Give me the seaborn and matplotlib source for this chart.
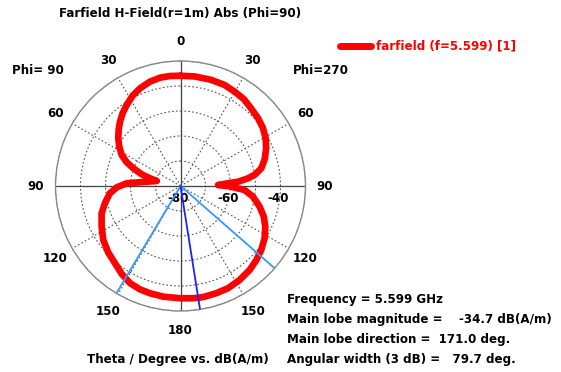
import numpy as np
import pandas as pd
import matplotlib
matplotlib.use("Agg")
import matplotlib.pyplot as plt
import seaborn as sns

sns.set_style("white")
plt.rcParams['font.family'] = ['DejaVu Sans']
plt.rcParams['font.weight'] = 'bold'
plt.rcParams['text.color'] = 'black'
plt.rcParams['xtick.color'] = 'black'
plt.rcParams['ytick.color'] = 'black'

# Angle measured clockwise from top (deg): right half = Phi=270 side, left half = Phi=90 side
angle_deg = [0, 7.4, 16, 23.6, 30, 36.2, 42, 48.9, 55, 60.8, 66, 72.2, 77.6, 81.1, 83.5,
             85.7, 86.7, 88.5, 90.3, 93.6, 98.4, 104.6, 110.2, 115.6, 121.8, 128.4, 134.3,
             140.5, 147.8, 155.1, 161.6, 167.7, 171, 174.5, 180,
             188.8, 195.9, 201.4, 207.4, 213.8, 220.3, 227.3, 235, 242.7, 250.9, 257.5,
             264.1, 268.8, 272.9, 275.4, 282, 284.2, 286.8, 290.6, 293.8, 297.8, 302.7,
             307.5, 312.2, 316.7, 321.5, 326.4, 332.1, 337.5, 343.7, 349.3, 354.5, 360]
h_field_db = [-35.9, -35.8, -35.8, -35.9, -36.5, -37.0, -38.0, -38.8, -39.7, -41.0, -42.5,
              -44.6, -46.9, -49.7, -52.8, -56.9, -61.0, -65.0, -60.5, -54.3, -50.7, -47.3,
              -44.5, -42.4, -40.4, -38.8, -37.6, -36.5, -35.6, -34.9, -34.8, -34.7, -34.7,
              -34.9, -35.1,
              -35.2, -35.4, -35.6, -36.2, -37.7, -39.5, -40.7, -42.3, -44.5, -46.6, -49.1,
              -51.6, -54.5, -58.4, -64.0, -70.3, -67.4, -63.8, -59.8, -56.5, -53.4, -50.9,
              -48.6, -46.6, -44.7, -42.8, -41.1, -39.1, -37.7, -36.5, -35.9, -35.8, -35.9]

theta_tick_pos = [0, 30, 60, 90, 120, 150, 180, 210, 240, 270, 300, 330]
theta_tick_labels = ['0', '30', '60', '90', '120', '150', '180', '150', '120', '90', '60', '30']
r_ticks = [-80, -70, -60, -50, -40, -30]
r_labels = ['-80', '-60', '-40']
r_label_vals = [-80, -60, -40]

main_lobe_dir = 171.0
main_lobe_mag = -34.7
angular_width = 79.7
freq = 5.599

df = pd.DataFrame({'theta': np.deg2rad(angle_deg), 'db': h_field_db})

W, H = 561, 372
FS = 8.6
fig = plt.figure(figsize=(W / 100, H / 100), dpi=100)
cx, cy, R = 180.5, 186, 125
ax = fig.add_axes([(cx - R) / W, (H - cy - R) / H, 2 * R / W, 2 * R / H], projection='polar')
ax.set_theta_zero_location('N')
ax.set_theta_direction(-1)
ax.set_ylim(-80, -30)

sns.lineplot(data=df, x='theta', y='db', sort=False, estimator=None, ax=ax,
             color='#ff0000', lw=4.8, solid_joinstyle='round', solid_capstyle='round',
             legend=False, zorder=5)
ax.set_xlabel('')
ax.set_ylabel('')

ax.set_thetagrids(theta_tick_pos, theta_tick_labels, fontsize=FS, fontweight='bold')
ax.tick_params(axis='x', pad=3.5)
ax.set_yticks(r_ticks)
ax.set_yticklabels([])
ax.grid(True, color='#555555', ls=(0, (1.5, 2)), lw=0.8)
ax.spines['polar'].set_color('#888888')
ax.spines['polar'].set_linewidth(1.0)
for t in [0, 90, 180, 270]:
    ax.axvline(np.deg2rad(t), color='#444444', lw=0.9, zorder=2)

for v, lab in zip(r_label_vals, r_labels):
    ax.annotate(lab, xy=(np.deg2rad(90), v), xytext=(-2, -4), textcoords='offset points',
                ha='center', va='top', fontsize=FS, fontweight='bold', zorder=3)

# beam lines: main lobe direction and 3 dB angular width limits
for a, c in [(main_lobe_dir - angular_width / 2, '#3399ff'),
             (main_lobe_dir + angular_width / 2, '#3399ff'),
             (main_lobe_dir, '#2222ee')]:
    ax.plot([np.deg2rad(a)] * 2, [-80, -30], color=c, lw=1.3, zorder=6)

def ft(x, y, s, **kw):
    fig.text(x / W, 1 - y / H, s, fontsize=FS, fontweight='bold', va='center', **kw)

ft(180, 14, 'Farfield H-Field(r=1m) Abs (Phi=90)', ha='center')
ft(12, 71, 'Phi= 90', ha='left')
ft(293, 71, 'Phi=270', ha='left')
ft(87, 359, 'Theta / Degree vs. dB(A/m)', ha='left')
ft(287, 300, f'Frequency = {freq} GHz', ha='left')
ft(287, 320, f'Main lobe magnitude =    {main_lobe_mag} dB(A/m)', ha='left')
ft(287, 339, f'Main lobe direction =  {main_lobe_dir:.1f} deg.', ha='left')
ft(287, 359, f'Angular width (3 dB) =   {angular_width} deg.', ha='left')

fig.lines.append(plt.Line2D([340 / W, 371 / W], [1 - 46 / H] * 2, transform=fig.transFigure,
                            color='#ff0000', lw=5, solid_capstyle='round'))
ft(376, 46, f'farfield (f={freq}) [1]', ha='left', color='#ff0000')

fig.savefig('out.png', dpi=100)
